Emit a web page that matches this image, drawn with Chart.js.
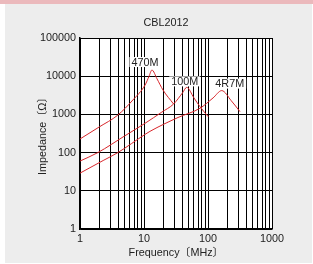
<!DOCTYPE html>
<html>
<head>
<meta charset="utf-8">
<script src="https://cdn.jsdelivr.net/npm/chart.js@4"></script>
<style>
  html, body { margin: 0; padding: 0; background: #fff; }
  #band { position: absolute; left: 0; top: 0; width: 313px; height: 4px; background: #ebb9bc; }
  #panel { position: absolute; left: 5px; top: 4px; width: 307px; height: 259px; background: #ededed; }
  #c { position: absolute; left: 0; top: 0; }
</style>
</head>
<body>
<div id="band"></div>
<div id="panel"></div>
<canvas id="c" width="313" height="264"></canvas>
<script>
// ---- data ----
const chartTitle = 'CBL2012';
const seriesNames = ['470M', '100M', '4R7M'];

const freq470 = [1, 2, 3.9, 6.7, 10.4, 12, 13.3, 16, 19.8, 29];
const imp470  = [227, 470, 960, 2380, 5880, 10000, 14500, 8500, 4350, 1870];

const freq100 = [1, 1.9, 5, 10.4, 19, 29, 40, 46.5, 60, 75, 101];
const imp100  = [60, 100, 274, 586, 1150, 1870, 3670, 5100, 2740, 1590, 870];

const freq4R7 = [1, 2.3, 3.9, 10.4, 12.4, 34, 75, 120, 164, 230, 316];
const imp4R7  = [29, 62, 100, 300, 360, 830, 1450, 2700, 4200, 2300, 1180];

const xTicks = [1, 10, 100, 1000];
const yTicks = [1, 10, 100, 1000, 10000, 100000];

// ---- helpers ----
const FONT = '"Liberation Sans", Arial, "Noto Sans CJK JP", sans-serif';
const RED = '#d8262b';

const toPoints = (xs, ys) => xs.map((x, i) => ({ x: x, y: ys[i] }));

// grid positions 1..9 in every decade
const xGrid = [];
for (let d = 0; d < xTicks.length - 1; d++) {
    for (let k = 1; k <= 9; k++) xGrid.push(xTicks[d] * k);
}
xGrid.push(xTicks[xTicks.length - 1]);

// white plot area
const plotBg = {
    id: 'plotBg',
    beforeDraw(chart) {
        const a = chart.chartArea;
        chart.ctx.save();
        chart.ctx.fillStyle = '#fff';
        chart.ctx.fillRect(a.left, a.top, a.right - a.left, a.bottom - a.top);
        chart.ctx.restore();
    }
};

// chart title, sitting a bit left of the plot centre like the original
const titleText = {
    id: 'titleText',
    afterDraw(chart) {
        const ctx = chart.ctx;
        ctx.save();
        ctx.font = '10.8px ' + FONT;
        ctx.fillStyle = '#222';
        ctx.textAlign = 'center';
        ctx.textBaseline = 'middle';
        ctx.fillText(chartTitle, 166, 23);
        ctx.restore();
    }
};

// name tag above each peak
const labelShift = [[-7, -8], [-2, -6], [8, -7]];
const peakLabels = {
    id: 'peakLabels',
    beforeDatasetsDraw(chart) {
        const ctx = chart.ctx;
        ctx.save();
        ctx.font = '10.8px ' + FONT;
        ctx.textAlign = 'center';
        ctx.textBaseline = 'middle';
        chart.data.datasets.forEach((ds, i) => {
            let peak = ds.data[0];
            ds.data.forEach(p => { if (p.y > peak.y) peak = p; });
            const px = chart.scales.x.getPixelForValue(peak.x) + labelShift[i][0];
            const py = chart.scales.y.getPixelForValue(peak.y) + labelShift[i][1];
            const w = ctx.measureText(ds.label).width + 4;
            ctx.fillStyle = '#fff';
            ctx.fillRect(px - w / 2, py - 5, w, 10);
            ctx.fillStyle = '#222';
            ctx.fillText(ds.label, px, py + 0.5);
        });
        ctx.restore();
    }
};

const allData = [toPoints(freq470, imp470), toPoints(freq100, imp100), toPoints(freq4R7, imp4R7)];

new Chart(document.getElementById('c'), {
    type: 'line',
    data: {
        datasets: seriesNames.map((name, i) => ({
            label: name,
            data: allData[i],
            borderColor: RED,
            borderWidth: 1,
            pointRadius: 0,
            fill: false,
            cubicInterpolationMode: 'monotone'
        }))
    },
    options: {
        responsive: false,
        animation: false,
        layout: { padding: { left: 0, right: 41, top: 38, bottom: 0 } },
        plugins: {
            legend: { display: false },
            tooltip: { enabled: false },
            title: { display: false }
        },
        scales: {
            x: {
                type: 'logarithmic',
                min: 1,
                max: 1000,
                afterBuildTicks: s => { s.ticks = xGrid.map(v => ({ value: v })); },
                afterFit: s => { s.height = 35; },
                ticks: {
                    autoSkip: false,
                    maxRotation: 0,
                    padding: 4,
                    color: '#222',
                    font: { family: FONT, size: 10.8 },
                    callback: v => xTicks.includes(v) ? String(v) : ''
                },
                grid: { color: '#000', lineWidth: 1, drawTicks: false },
                border: { color: '#000', width: 1.5 },
                title: {
                    display: true,
                    text: 'Frequency〔MHz〕',
                    color: '#222',
                    font: { family: FONT, size: 10.8 },
                    padding: { top: 0, bottom: 4 }
                }
            },
            y: {
                type: 'logarithmic',
                min: 1,
                max: 100000,
                afterBuildTicks: s => { s.ticks = yTicks.map(v => ({ value: v })); },
                afterFit: s => { s.width = 80; },
                ticks: {
                    autoSkip: false,
                    padding: 4,
                    color: '#222',
                    font: { family: FONT, size: 10.8 },
                    callback: v => String(v)
                },
                grid: { color: '#000', lineWidth: 1, drawTicks: false },
                border: { color: '#000', width: 1.5 },
                title: {
                    display: true,
                    text: 'Impedance〔Ω〕',
                    color: '#222',
                    font: { family: FONT, size: 10.8 },
                    padding: { top: 36.5, bottom: 0 }
                }
            }
        }
    },
    plugins: [plotBg, titleText, peakLabels]
});
</script>
</body>
</html>
